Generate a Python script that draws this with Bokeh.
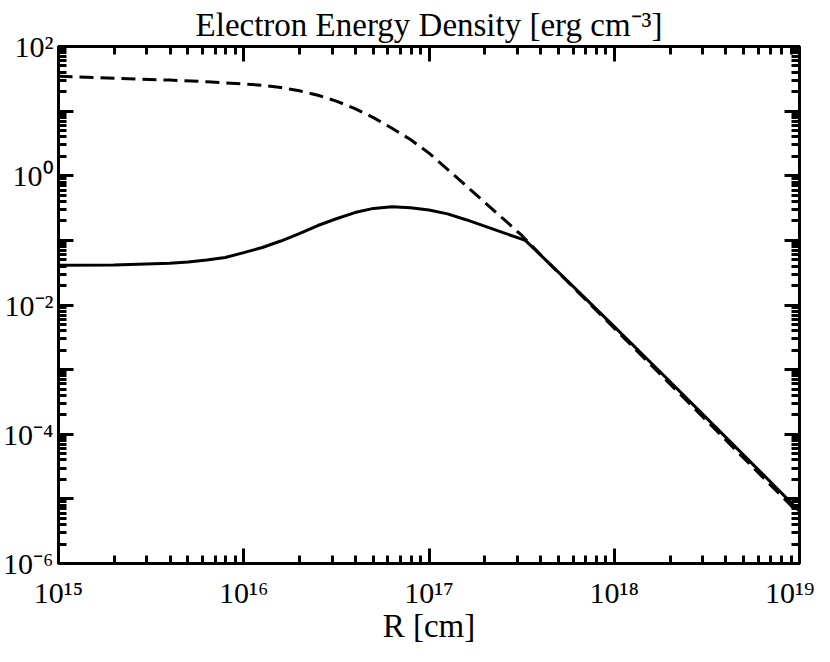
from bokeh.plotting import figure
from bokeh.models import LogAxis, FixedTicker, CustomJSTickFormatter
from bokeh.embed import file_html
from bokeh.resources import INLINE

# ---- data ----
r_solid = [1.000e15, 1.995e15, 3.981e15, 5.012e15, 6.310e15, 7.943e15, 1.000e16,
           1.259e16, 1.585e16, 1.995e16, 2.512e16, 3.162e16, 3.981e16, 5.012e16,
           6.310e16, 7.943e16, 1.000e17, 1.259e17, 1.585e17, 1.995e17, 2.512e17,
           3.311e17, 5.623e17, 1.000e18, 1.778e18, 3.162e18, 5.623e18, 1.000e19]
u_solid = [0.04121, 0.04169, 0.04416, 0.04624, 0.04955, 0.05433, 0.06457,
           0.07762, 0.09772, 0.1274, 0.1698, 0.2163, 0.2692, 0.3126,
           0.3311, 0.3199, 0.2951, 0.2570, 0.2089, 0.1660, 0.1318,
           0.1000, 0.02317, 4.624e-3, 9.120e-4, 1.758e-4, 3.388e-5, 6.457e-6]

r_dashed = [1.000e15, 1.995e15, 3.981e15, 6.310e15, 1.000e16, 1.259e16, 1.585e16,
            1.995e16, 2.512e16, 3.162e16, 3.981e16, 5.012e16, 6.310e16, 7.943e16,
            1.000e17, 1.259e17, 1.585e17, 1.995e17, 2.512e17, 3.162e17, 3.981e17,
            5.623e17, 1.000e18, 1.778e18, 3.162e18, 5.623e18, 1.000e19]
u_dashed = [34.67, 32.36, 30.20, 28.51, 26.30, 25.12, 23.17,
            20.65, 17.58, 14.29, 10.96, 7.943, 5.433, 3.631,
            2.239, 1.259, 0.6998, 0.3890, 0.2163, 0.1202, 0.06095,
            0.02265, 4.365e-3, 8.414e-4, 1.603e-4, 3.055e-5, 5.821e-6]

x_decades = [15, 16, 17, 18, 19]
y_decades = [-6, -5, -4, -3, -2, -1, 0, 1, 2]

title_text = "Electron Energy Density [erg cm\u207b\u00b3]"
x_label = "R [cm]"

FONT = "Liberation Serif"

x_major = [10.0 ** e for e in x_decades]
x_minor = [k * 10.0 ** e for e in x_decades[:-1] for k in range(2, 10)]
y_major = [10.0 ** e for e in y_decades]
y_minor = [k * 10.0 ** e for e in y_decades[:-1] for k in range(2, 10)]

p = figure(width=814, height=646, x_axis_type="log", y_axis_type="log",
           x_range=(x_major[0], x_major[-1]), y_range=(y_major[0], y_major[-1]),
           output_backend="svg", toolbar_location=None,
           min_border_left=52, min_border_right=15, min_border_top=0, min_border_bottom=0)

p.title.text = title_text
p.title.text_font = FONT
p.title.text_font_size = "33px"
p.title.text_font_style = "normal"
p.title.align = "center"
p.title.text_color = "black"
p.title.standoff = 8
p.title.offset = 0

p.grid.visible = False
p.outline_line_color = "black"
p.outline_line_width = 3
p.background_fill_color = "white"
p.border_fill_color = "white"

sup_js = """
const m = {"-":"\u207b","0":"\u2070","1":"\u00b9","2":"\u00b2","3":"\u00b3","4":"\u2074",
           "5":"\u2075","6":"\u2076","7":"\u2077","8":"\u2078","9":"\u2079"};
const e = Math.round(Math.log10(tick));
if (skip && (e % 2 != 0)) { return ""; }
return "10" + String(e).split("").map(c => m[c]).join("");
"""
fmt_x = CustomJSTickFormatter(code=sup_js, args=dict(skip=False))
fmt_y = CustomJSTickFormatter(code=sup_js, args=dict(skip=True))
fmt_none = CustomJSTickFormatter(code='return "";')


def style(ax, ticker, fmt):
    ax.ticker = ticker
    ax.formatter = fmt
    ax.axis_line_color = "black"
    ax.axis_line_width = 3
    ax.major_tick_line_color = "black"
    ax.major_tick_line_width = 3
    ax.minor_tick_line_color = "black"
    ax.minor_tick_line_width = 3
    ax.major_tick_in = 15
    ax.major_tick_out = 0
    ax.minor_tick_in = 8
    ax.minor_tick_out = 0
    ax.major_label_text_font = FONT
    ax.major_label_text_font_size = "30px"
    ax.major_label_text_color = "black"


style(p.xaxis[0], FixedTicker(ticks=x_major, minor_ticks=x_minor), fmt_x)
p.xaxis[0].major_label_standoff = 12
p.xaxis[0].axis_label = x_label
p.xaxis[0].axis_label_text_font = FONT
p.xaxis[0].axis_label_text_font_size = "33px"
p.xaxis[0].axis_label_text_font_style = "normal"
p.xaxis[0].axis_label_text_color = "black"
p.xaxis[0].axis_label_standoff = -4

style(p.yaxis[0], FixedTicker(ticks=y_major, minor_ticks=y_minor), fmt_y)
p.yaxis[0].major_label_standoff = 5

top = LogAxis()
style(top, FixedTicker(ticks=x_major, minor_ticks=x_minor), fmt_none)
top.major_label_text_font_size = "1px"
top.major_label_standoff = 0
p.add_layout(top, "above")

right = LogAxis()
style(right, FixedTicker(ticks=y_major, minor_ticks=y_minor), fmt_none)
right.major_label_text_font_size = "1px"
right.major_label_standoff = 0
p.add_layout(right, "right")

p.line(r_solid, u_solid, line_color="black", line_width=3)
p.line(r_dashed, u_dashed, line_color="black", line_width=3, line_dash="14 7")

open("out.html", "w").write(file_html(p, INLINE))
